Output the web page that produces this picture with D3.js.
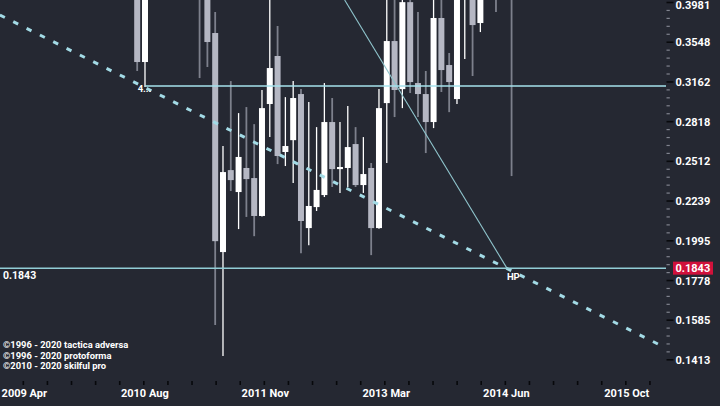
<!DOCTYPE html>
<html><head><meta charset="utf-8">
<script src="https://cdn.jsdelivr.net/npm/d3@7"></script>
<style>
html,body{margin:0;padding:0;background:#252832;overflow:hidden}
svg{display:block}
text{font-family:Roboto,"DejaVu Sans",sans-serif}
</style></head><body>
<svg id="chart" width="720" height="406"></svg>
<script>
// month offsets (0 = 2010 Aug)
const months = [-1,0,7,8,9,10,11,12,13,14,15,16,17,18,19,20,21,22,23,24,25,26,27,28,29,30,31,32,33,34,35,36,37,38,39,40,41,42,43,45,47];
const opens  = [0.4500,0.3350,0.4700,0.4300,0.3644,0.1931,0.2449,0.2298,0.2464,0.2393,0.2144,0.2966,0.3409,0.2581,0.2671,0.3053,0.2070,0.2200,0.2278,0.2815,0.2456,0.2464,0.2641,0.2345,0.2464,0.2070,0.2974,0.3560,0.3097,0.3985,0.3152,0.3053,0.2815,0.3806,0.3321,0.3009,0.4200,0.4300,0.3751,0.4500,0.4400];
const highs  = [0.4600,0.4500,0.4800,0.4400,0.3873,0.2626,0.3170,0.2889,0.2940,0.2798,0.3089,0.4100,0.3719,0.3026,0.3170,0.3097,0.2983,0.2774,0.3152,0.3018,0.2815,0.2948,0.2774,0.2695,0.2500,0.3097,0.4050,0.4100,0.4200,0.4200,0.3873,0.3264,0.4100,0.4100,0.3439,0.4300,0.4600,0.4400,0.4300,0.4600,0.4500];
const lows   = [0.3264,0.3115,0.3198,0.3302,0.1563,0.1429,0.2305,0.2064,0.2138,0.2022,0.2140,0.2695,0.2492,0.2478,0.2359,0.1925,0.1970,0.2175,0.2265,0.2332,0.2292,0.2332,0.2332,0.2292,0.1914,0.2066,0.2500,0.2856,0.2931,0.3062,0.2856,0.2573,0.2766,0.3071,0.2897,0.2966,0.3380,0.3217,0.3654,0.3873,0.2407];
const closes = [0.3350,0.4400,0.4100,0.3550,0.1993,0.2435,0.2379,0.2544,0.2386,0.2144,0.2931,0.3292,0.2551,0.2626,0.3018,0.2113,0.2207,0.2312,0.2815,0.2456,0.2471,0.2618,0.2345,0.2421,0.2070,0.2931,0.3560,0.3089,0.3985,0.3161,0.3053,0.2815,0.3806,0.3273,0.3161,0.4100,0.4500,0.3729,0.4200,0.4200,0.4100];

const yTickValues = [0.3981,0.3548,0.3162,0.2818,0.2512,0.2239,0.1995,0.1778,0.1585,0.1413];
const yTickLabels = ["0.3981","0.3548","0.3162","0.2818","0.2512","0.2239","0.1995","0.1778","0.1585","0.1413"];
const xTickLabels = ["2009 Apr","2010 Aug","2011 Nov","2013 Mar","2014 Jun","2015 Oct"];
const xLabelMonths = [-15.6,-0.15,15.3,30.8,46.2,61.65];

const lastPrice = 0.1843;
const supportLevel = 0.3125, supportStartMonth = 0;
const trendDashed = [[-18.6,0.3839],[66.8,0.1462]];
const trendSolid = [[25.6,0.4010],[46.4,0.1843]];
const copyright = ["\u00A91996 - 2020 tactica adversa","\u00A91996 - 2020 protoforma","\u00A92010 - 2020 skilful pro"];

const svg = d3.select("#chart");
const W = 720, H = 406, plotR = 666, plotB = 381;
const x = d3.scaleLinear().domain([-18.59, 66.8]).range([0, plotR]);
const y = d3.scaleLog().domain([0.1413, 0.3981]).range([359.8, 2.5]);

svg.append("rect").attr("width",W).attr("height",H).attr("fill","#252832");
svg.append("defs").append("clipPath").attr("id","clip")
  .append("rect").attr("x",0).attr("y",0).attr("width",plotR).attr("height",plotB);

const candles = months.map((m,i)=>({m,o:opens[i],h:highs[i],l:lows[i],c:closes[i]}));
const plot = svg.append("g").attr("clip-path","url(#clip)");
const bw = 6;
const cg = plot.selectAll("g.c").data(candles).join("g");
cg.append("line")
  .attr("x1",d=>x(d.m)).attr("x2",d=>x(d.m))
  .attr("y1",d=>y(d.h)).attr("y2",d=>y(d.l))
  .attr("stroke",d=>d.c>=d.o?"#ffffff":"#7d808c")
  .attr("stroke-width",d=>d.c>=d.o?1.3:1.8);
cg.append("rect")
  .attr("x",d=>x(d.m)-bw/2).attr("width",bw)
  .attr("y",d=>y(Math.max(d.o,d.c)))
  .attr("height",d=>Math.max(1.6,Math.abs(y(d.o)-y(d.c))))
  .attr("fill",d=>d.c>=d.o?"#ffffff":"#b5b7c3");

// lines
const ln = d3.line().x(d=>x(d[0])).y(d=>y(d[1]));
plot.append("path").attr("d",ln(trendDashed)).attr("fill","none")
  .attr("stroke","#a3dbe6").attr("stroke-width",3).attr("stroke-dasharray","5.5 9.4");
plot.append("path").attr("d",ln(trendSolid)).attr("fill","none")
  .attr("stroke","#8fc4cc").attr("stroke-width",1.1);
plot.append("line").attr("x1",x(supportStartMonth)).attr("x2",plotR)
  .attr("y1",y(supportLevel)).attr("y2",y(supportLevel))
  .attr("stroke","#a6e2ec").attr("stroke-width",1.5);
plot.append("line").attr("x1",0).attr("x2",plotR)
  .attr("y1",y(lastPrice)).attr("y2",y(lastPrice))
  .attr("stroke","#92cdd6").attr("stroke-width",1.5);

// annotations
svg.append("text").attr("x",x(supportStartMonth)-0.5).attr("y",y(supportLevel)+5.5)
  .attr("text-anchor","middle").attr("fill","#fff").attr("font-size",9.5).attr("font-weight",700).text("4...");
svg.append("text").attr("x",x(trendSolid[1][0])).attr("y",y(lastPrice)+11.5)
  .attr("fill","#fff").attr("font-size",9.5).attr("font-weight",700).text("HP");
svg.append("text").attr("x",3).attr("y",y(lastPrice)+11)
  .attr("fill","#fff").attr("font-size",10.5).attr("font-weight",700).text(lastPrice.toFixed(4));

// y axis
const ya = svg.append("g").attr("transform",`translate(${plotR},0)`);
const minors = [];
for (let i=0;i<yTickValues.length-1;i++){
  const a=yTickValues[i], b=yTickValues[i+1];
  for (let j=1;j<5;j++) minors.push(a*Math.pow(b/a,j/5));
}
ya.selectAll("line.mi").data(minors).join("line")
  .attr("x1",0.5).attr("x2",3.8).attr("y1",d=>y(d)).attr("y2",d=>y(d))
  .attr("stroke","#80838e").attr("stroke-width",1.2);
ya.selectAll("line.ma").data(yTickValues).join("line")
  .attr("x1",0.5).attr("x2",7.5).attr("y1",d=>y(d)).attr("y2",d=>y(d))
  .attr("stroke","#08090c").attr("stroke-width",1.6);
ya.selectAll("text").data(yTickValues).join("text")
  .attr("x",9.5).attr("y",d=>Math.max(5,y(d))).attr("dy","0.36em")
  .attr("fill","#fff").attr("font-size",11).attr("font-weight",700)
  .text((d,i)=>yTickLabels[i]);
// last price tag
const lpY = y(lastPrice);
ya.append("rect").attr("x",7).attr("y",lpY-6.5).attr("width",40).attr("height",13).attr("fill","#d0113b");
ya.append("text").attr("x",9.5).attr("y",lpY).attr("dy","0.36em")
  .attr("fill","#fff").attr("font-size",11).attr("font-weight",700).text(lastPrice.toFixed(4));

// x axis
const xa = svg.append("g");
const step = (xLabelMonths[1]-xLabelMonths[0])/5;
const xt = d3.range(0,30).map(i=>xLabelMonths[0]+i*step).filter(m=>x(m)<plotR+5);
xa.selectAll("line").data(xt).join("line")
  .attr("x1",d=>x(d)).attr("x2",d=>x(d)).attr("y1",381).attr("y2",385)
  .attr("stroke","#07080b").attr("stroke-width",1.6);
xa.selectAll("text").data(xTickLabels).join("text")
  .attr("x",(d,i)=>x(xLabelMonths[i])+1).attr("y",397)
  .attr("text-anchor","middle").attr("fill","#fff").attr("font-size",11).attr("font-weight",700)
  .text(d=>d);

// copyright
svg.selectAll("text.cp").data(copyright).join("text").attr("class","cp")
  .attr("x",3).attr("y",(d,i)=>348+i*10.5)
  .attr("fill","#fff").attr("font-size",9.4).attr("font-weight",700).text(d=>d);
</script>
</body></html>
